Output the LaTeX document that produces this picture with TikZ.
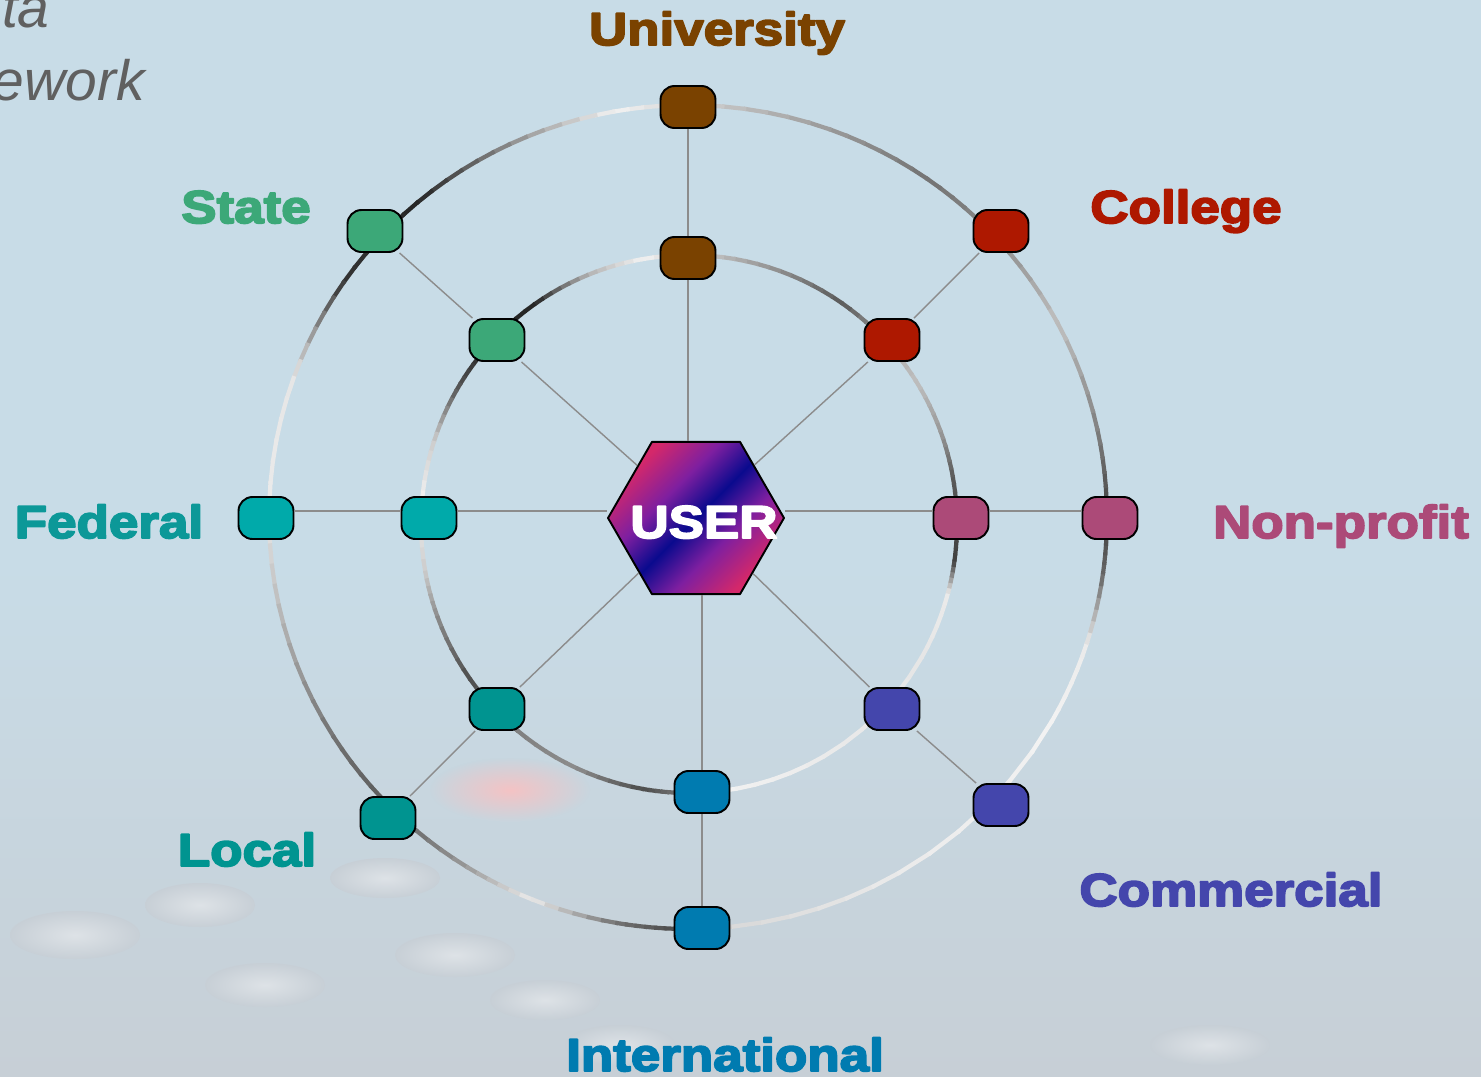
\documentclass[tikz,border=0pt]{standalone}
\usepackage{fontspec}
\setmainfont{Liberation Sans}
\newfontfamily\heavyfont[BoldFeatures={FakeBold=4,FakeStretch=1.15}]{Liberation Sans}
\usetikzlibrary{shapes.geometric, calc}

\definecolor{bgsky}{HTML}{C8DCE7}
\definecolor{bgdesk}{HTML}{C7CFD6}
\definecolor{spokegray}{HTML}{8C8C8C}
\definecolor{titlegray}{HTML}{606060}
\definecolor{univc}{HTML}{7A4200}
\definecolor{collc}{HTML}{AE1800}
\definecolor{nonpc}{HTML}{AC4A78}
\definecolor{commc}{HTML}{4446AC}
\definecolor{intlc}{HTML}{007BB0}
\definecolor{localc}{HTML}{009490}
\definecolor{fedc}{HTML}{00AAAA}
\definecolor{fedtxt}{HTML}{0C9898}
\definecolor{statec}{HTML}{3CA878}
\definecolor{ured}{HTML}{D4286A}
\definecolor{upurple}{HTML}{7E1FA0}
\definecolor{ublue}{HTML}{0A0A8E}

\pgfdeclarehorizontalshading{userband}{100bp}{color(0bp)=(ured); color(26bp)=(ured);
  color(39bp)=(upurple); color(50bp)=(ublue); color(61bp)=(upurple); color(74bp)=(ured); color(100bp)=(ured)}

\tikzset{
  hub/.style={draw=black, line width=1.1pt, rounded corners=0.28cm,
    minimum width=1.1cm, minimum height=0.84cm, inner sep=0pt},
  spoke/.style={draw=spokegray, line width=0.8pt},
  ring/.style={line width=2.4pt, line cap=butt},
  sector/.style={font=\heavyfont\bfseries\fontsize{26.2}{28}\selectfont, anchor=base, inner sep=0pt},
  userhex/.style={regular polygon, regular polygon sides=6, minimum size=3.52cm, inner sep=0pt,
    draw=black, line width=1.1pt, shading=userband, shading angle=-45},
  titletext/.style={font=\itshape\fontsize{32.4}{34}\selectfont, text=titlegray, anchor=base east, inner sep=0pt},
  blob/.style={shading=radial, inner color=white!40!bgdesk, outer color=bgdesk},
}

\begin{document}
\begin{tikzpicture}[x=0.02cm, y=-0.02cm, line join=round]
\useasboundingbox (0,0) rectangle (1481,1076);
\clip (0,0) rectangle (1481,1076);

%========================
% backdrop
%========================
\fill[bgsky] (0,0) rectangle (1481,1076);
\shade[top color=bgsky, bottom color=bgdesk] (0,560) rectangle (1481,1076);
\shade[shading=radial, inner color=pink!80!bgdesk, outer color=bgsky!50!bgdesk] (510,790) ellipse (80 and 32);
\shade[blob] (75,935) ellipse (65 and 24);
\shade[blob] (200,905) ellipse (55 and 22);
\shade[blob] (385,878) ellipse (55 and 20);
\shade[blob] (455,955) ellipse (60 and 22);
\shade[blob] (265,985) ellipse (60 and 22);
\shade[blob] (545,1000) ellipse (55 and 20);
\shade[blob] (620,1045) ellipse (55 and 20);
\shade[blob] (1210,1045) ellipse (60 and 20);

% title, cut by the page edge
\node[titletext] (ttlA) at (50,27) {Data};
\node[titletext] (ttlB) at (145,100) {Framework};

%========================
% metallic rings
%========================
% outer ring
\foreach \a/\b/\p/\q in {0/12/75/50, 12/28/50/25, 28/42/25/45, 42/55/45/55, 55/70/55/40,
    70/88/40/20, 88/100/20/5, 100/115/5/45, 115/130/45/85, 130/145/85/80, 145/160/80/10,
    160/178/10/8, 178/195/8/30, 195/212/30/55, 212/225/55/65, 225/238/65/40, 238/248/40/8,
    248/260/8/55, 260/268/55/70, 268/276/70/15, 276/300/15/8, 300/330/8/5, 330/342/5/8,
    342/352/8/60, 352/360/60/75}{
  \foreach \s in {0,...,5}{
    \pgfmathsetmacro\ta{\a+(\b-\a)*\s/6}
    \pgfmathsetmacro\tb{\a+(\b-\a)*(\s+1)/6+0.4}
    \pgfmathsetmacro\lv{\p+(\q-\p)*(\s+0.5)/6}
    \draw[ring, black!\lv!white] ({688+419*cos(\ta)},{517-412*sin(\ta)})
      -- ({688+419*cos(\tb)},{517-412*sin(\tb)});
  }
}
% inner ring
\foreach \a/\b/\p/\q in {0/10/70/65, 10/20/65/40, 20/32/40/25, 32/42/25/35, 42/55/35/65,
    55/70/65/45, 70/85/45/25, 85/100/25/5, 100/112/5/30, 112/125/30/85, 125/140/85/85,
    140/150/85/65, 150/162/65/20, 162/175/20/5, 175/190/5/20, 190/200/20/45, 200/215/45/70,
    215/230/70/50, 230/245/50/45, 245/260/45/70, 260/268/70/55, 268/276/55/5, 276/300/5/8,
    300/330/8/10, 330/345/10/8, 345/352/8/75, 352/360/75/70}{
  \foreach \s in {0,...,5}{
    \pgfmathsetmacro\ta{\a+(\b-\a)*\s/6}
    \pgfmathsetmacro\tb{\a+(\b-\a)*(\s+1)/6+0.4}
    \pgfmathsetmacro\lv{\p+(\q-\p)*(\s+0.5)/6}
    \draw[ring, black!\lv!white] ({689+268*cos(\ta)},{524-269*sin(\ta)})
      -- ({689+268*cos(\tb)},{524-269*sin(\tb)});
  }
}

%========================
% centre and hubs
%========================
\node[userhex] (user) at (696,518) {};

\node[hub, fill=univc] (univOut) at (688,107) {};
\node[hub, fill=univc] (univIn) at (688,258) {};
\node[hub, fill=collc] (collOut) at (1001,231) {};
\node[hub, fill=collc] (collIn) at (892,340) {};
\node[hub, fill=nonpc] (nonpOut) at (1110,518) {};
\node[hub, fill=nonpc] (nonpIn) at (961,518) {};
\node[hub, fill=commc] (commOut) at (1001,805) {};
\node[hub, fill=commc] (commIn) at (892,709) {};
\node[hub, fill=intlc] (intlOut) at (702,928) {};
\node[hub, fill=intlc] (intlIn) at (702,792) {};
\node[hub, fill=localc] (localOut) at (388,818) {};
\node[hub, fill=localc] (localIn) at (497,709) {};
\node[hub, fill=fedc] (fedOut) at (266,518) {};
\node[hub, fill=fedc] (fedIn) at (429,518) {};
\node[hub, fill=statec] (stateOut) at (375,231) {};
\node[hub, fill=statec] (stateIn) at (497,340) {};

% spokes
\draw[spoke] (univOut) -- (univIn) -- (univIn |- user.north);
\draw[spoke] (intlOut) -- (intlIn) -- (intlIn |- user.south);
\draw[spoke] (collOut) -- (collIn) -- (user);
\draw[spoke] (commOut) -- (commIn) -- (user);
\draw[spoke] (localOut) -- (localIn) -- (user);
\draw[spoke] (stateOut) -- (stateIn) -- (user);
\draw[spoke] ([yshift=0.14cm]fedOut.east) -- ([yshift=0.14cm]fedIn.west);
\draw[spoke] ([yshift=0.14cm]fedIn.east) -- ([yshift=0.14cm]user.west);
\draw[spoke] ([yshift=0.14cm]nonpOut.west) -- ([yshift=0.14cm]nonpIn.east);
\draw[spoke] ([yshift=0.14cm]nonpIn.west) -- ([yshift=0.14cm]user.east);

\node[sector, text=white] (userLbl) at (704,538) {USER};

%========================
% sector labels
%========================
\node[sector, text=univc] (univLbl) at (717,45) {University};
\node[sector, text=collc] (collLbl) at (1186,223) {College};
\node[sector, text=statec] (stateLbl) at (246,223) {State};
\node[sector, text=fedtxt] (fedLbl) at (109,538) {Federal};
\node[sector, text=nonpc] (nonpLbl) at (1341,538) {Non-profit};
\node[sector, text=localc] (localLbl) at (247,866) {Local};
\node[sector, text=commc] (commLbl) at (1231,906) {Commercial};
\node[sector, text=intlc] (intlLbl) at (725,1071) {International};

\end{tikzpicture}
\end{document}
